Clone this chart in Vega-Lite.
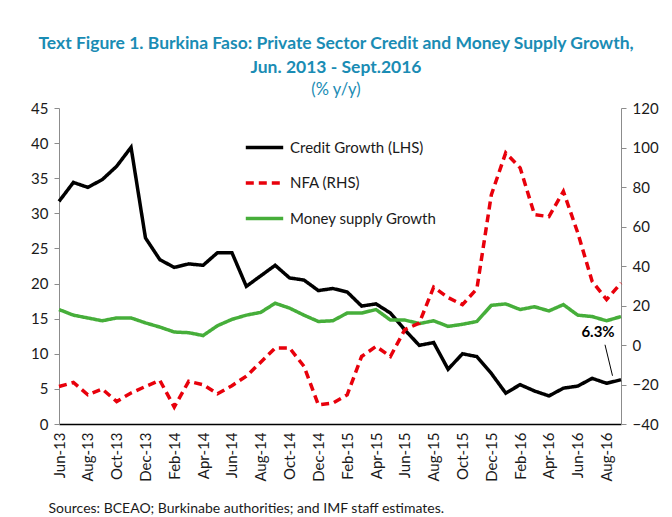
{
  "$schema": "https://vega.github.io/schema/vega-lite/v6.json",
  "width": 562,
  "height": 316,
  "autosize": "none",
  "padding": {"left": 59, "top": 108, "right": 51, "bottom": 93},
  "background": "white",
  "config": {"view": {"stroke": null}, "font": "Lato"},
  "title": {
    "text": ["Text Figure 1. Burkina Faso: Private Sector Credit and Money Supply Growth,", "Jun. 2013 - Sept.2016"],
    "subtitle": "(% y/y)",
    "anchor": "middle",
    "dx": -4,
    "font": "Lato",
    "fontSize": 17.5,
    "fontWeight": "bold",
    "color": "#1A8CB4",
    "lineHeight": 24,
    "subtitleFont": "Lato",
    "subtitleFontSize": 16.5,
    "subtitleColor": "#1A8CB4",
    "subtitlePadding": 5,
    "offset": 3
  },
  "data": {
    "values": [
      {"m": "Jun-13", "credit": 31.7, "nfa": -21.0, "money": 16.3},
      {"m": "Jul-13", "credit": 34.4, "nfa": -19.0, "money": 15.5},
      {"m": "Aug-13", "credit": 33.7, "nfa": -25.2, "money": 15.1},
      {"m": "Sep-13", "credit": 34.8, "nfa": -22.3, "money": 14.7},
      {"m": "Oct-13", "credit": 36.7, "nfa": -28.6, "money": 15.1},
      {"m": "Nov-13", "credit": 39.4, "nfa": -24.3, "money": 15.1},
      {"m": "Dec-13", "credit": 26.5, "nfa": -21.0, "money": 14.4},
      {"m": "Jan-14", "credit": 23.4, "nfa": -17.9, "money": 13.8},
      {"m": "Feb-14", "credit": 22.3, "nfa": -31.4, "money": 13.1},
      {"m": "Mar-14", "credit": 22.8, "nfa": -18.4, "money": 13.0},
      {"m": "Apr-14", "credit": 22.6, "nfa": -20.1, "money": 12.6},
      {"m": "May-14", "credit": 24.4, "nfa": -24.7, "money": 14.0},
      {"m": "Jun-14", "credit": 24.4, "nfa": -20.6, "money": 14.9},
      {"m": "Jul-14", "credit": 19.6, "nfa": -15.8, "money": 15.5},
      {"m": "Aug-14", "credit": 21.1, "nfa": -8.7, "money": 15.9},
      {"m": "Sep-14", "credit": 22.6, "nfa": -1.5, "money": 17.2},
      {"m": "Oct-14", "credit": 20.8, "nfa": -1.5, "money": 16.5},
      {"m": "Nov-14", "credit": 20.5, "nfa": -10.8, "money": 15.5},
      {"m": "Dec-14", "credit": 19.0, "nfa": -30.3, "money": 14.6},
      {"m": "Jan-15", "credit": 19.3, "nfa": -29.4, "money": 14.7},
      {"m": "Feb-15", "credit": 18.8, "nfa": -25.2, "money": 15.8},
      {"m": "Mar-15", "credit": 16.8, "nfa": -5.8, "money": 15.8},
      {"m": "Apr-15", "credit": 17.1, "nfa": -0.7, "money": 16.3},
      {"m": "May-15", "credit": 15.8, "nfa": -5.8, "money": 14.8},
      {"m": "Jun-15", "credit": 13.4, "nfa": 7.8, "money": 14.8},
      {"m": "Jul-15", "credit": 11.2, "nfa": 11.1, "money": 14.3},
      {"m": "Aug-15", "credit": 11.6, "nfa": 29.3, "money": 14.7},
      {"m": "Sep-15", "credit": 7.8, "nfa": 24.0, "money": 13.9},
      {"m": "Oct-15", "credit": 10.0, "nfa": 20.4, "money": 14.2},
      {"m": "Nov-15", "credit": 9.6, "nfa": 28.5, "money": 14.6},
      {"m": "Dec-15", "credit": 7.2, "nfa": 76.0, "money": 16.9},
      {"m": "Jan-16", "credit": 4.4, "nfa": 97.3, "money": 17.1},
      {"m": "Feb-16", "credit": 5.6, "nfa": 89.7, "money": 16.3},
      {"m": "Mar-16", "credit": 4.7, "nfa": 66.0, "money": 16.7},
      {"m": "Apr-16", "credit": 4.0, "nfa": 65.0, "money": 16.1},
      {"m": "May-16", "credit": 5.1, "nfa": 77.8, "money": 17.0},
      {"m": "Jun-16", "credit": 5.4, "nfa": 56.8, "money": 15.5},
      {"m": "Jul-16", "credit": 6.5, "nfa": 32.2, "money": 15.3},
      {"m": "Aug-16", "credit": 5.8, "nfa": 23.0, "money": 14.7},
      {"m": "Sep-16", "credit": 6.3, "nfa": 31.4, "money": 15.3}
    ]
  },
  "encoding": {
    "x": {
      "field": "m",
      "type": "ordinal",
      "sort": null,
      "scale": {"type": "point", "padding": 0},
      "axis": {
        "values": ["Jun-13", "Aug-13", "Oct-13", "Dec-13", "Feb-14", "Apr-14", "Jun-14", "Aug-14", "Oct-14", "Dec-14", "Feb-15", "Apr-15", "Jun-15", "Aug-15", "Oct-15", "Dec-15", "Feb-16", "Apr-16", "Jun-16", "Aug-16"],
        "labelAngle": -90,
        "labelFontSize": 15,
        "labelFont": "Lato",
        "labelColor": "#1a1a1a",
        "labelPadding": 8,
        "ticks": false,
        "domainColor": "#000000",
        "domainWidth": 1.5,
        "grid": false,
        "title": "Sources: BCEAO; Burkinabe authorities; and IMF staff estimates.",
        "titleAnchor": "start",
        "titleAlign": "left",
        "titleBaseline": "alphabetic",
        "titleX": -11,
        "titleY": 88,
        "titleFontWeight": "normal",
        "titleFontSize": 14,
        "titleFont": "Lato",
        "titleColor": "#1a1a1a"
      }
    }
  },
  "layer": [
    {
      "transform": [{"fold": ["credit", "money"], "as": ["series", "value"]}],
      "mark": {"type": "line", "strokeWidth": 3.5, "strokeJoin": "miter"},
      "encoding": {
        "y": {
          "field": "value",
          "type": "quantitative",
          "scale": {"domain": [0, 45], "nice": false, "zero": false},
          "axis": {
            "orient": "left",
            "values": [0, 5, 10, 15, 20, 25, 30, 35, 40, 45],
            "labelFontSize": 15,
            "labelFont": "Lato",
            "labelColor": "#1a1a1a",
            "domainColor": "#8c8c8c",
            "tickColor": "#8c8c8c",
            "tickSize": 5,
            "labelPadding": 6,
            "grid": false,
            "title": null
          }
        },
        "color": {
          "field": "series",
          "type": "nominal",
          "scale": {"domain": ["credit", "nfa", "money"], "range": ["#000000", "#E8000B", "#46AE3A"]},
          "legend": {
            "orient": "none",
            "legendX": 185,
            "legendY": 19,
            "title": null,
            "symbolType": "stroke",
            "symbolSize": 1400,
            "symbolStrokeWidth": 3.5,
            "labelFontSize": 15,
            "labelFont": "Lato",
            "labelColor": "#1a1a1a",
            "labelOffset": 5,
            "rowPadding": 6.5,
            "labelExpr": "datum.value == 'credit' ? 'Credit Growth (LHS)' : datum.value == 'nfa' ? 'NFA (RHS)' : 'Money supply Growth'"
          }
        },
        "strokeDash": {
          "field": "series",
          "type": "nominal",
          "scale": {"domain": ["credit", "nfa", "money"], "range": [[1, 0], [8, 5], [1, 0]]},
          "legend": {
            "orient": "none",
            "legendX": 185,
            "legendY": 19,
            "title": null,
            "symbolType": "stroke",
            "symbolSize": 1400,
            "symbolStrokeWidth": 3.5,
            "labelFontSize": 15,
            "labelFont": "Lato",
            "labelColor": "#1a1a1a",
            "labelOffset": 5,
            "rowPadding": 6.5,
            "labelExpr": "datum.value == 'credit' ? 'Credit Growth (LHS)' : datum.value == 'nfa' ? 'NFA (RHS)' : 'Money supply Growth'"
          }
        }
      }
    },
    {
      "transform": [{"fold": ["nfa"], "as": ["series", "value"]}],
      "mark": {"type": "line", "strokeWidth": 3.5, "strokeJoin": "miter"},
      "encoding": {
        "y": {
          "field": "value",
          "type": "quantitative",
          "scale": {"domain": [-40, 120], "nice": false, "zero": false},
          "axis": {
            "orient": "right",
            "values": [-40, -20, 0, 20, 40, 60, 80, 100, 120],
            "labelFontSize": 15,
            "labelFont": "Lato",
            "labelColor": "#1a1a1a",
            "domainColor": "#8c8c8c",
            "tickColor": "#8c8c8c",
            "tickSize": 5,
            "labelPadding": 6,
            "grid": false,
            "title": null
          }
        },
        "color": {"field": "series", "type": "nominal"},
        "strokeDash": {"field": "series", "type": "nominal"}
      }
    },
    {
      "transform": [{"filter": "datum.m == 'Sep-16'"}],
      "mark": {"type": "rule", "color": "#000000", "strokeWidth": 1, "xOffset": -16, "yOffset": -35, "x2Offset": -8.5, "y2Offset": -4},
      "encoding": {
        "y": {"field": "credit", "type": "quantitative", "scale": {"domain": [0, 45], "nice": false, "zero": false}, "axis": null},
        "x2": {"field": "m"},
        "y2": {"field": "credit"}
      }
    },
    {
      "transform": [{"filter": "datum.m == 'Sep-16'"}, {"calculate": "format(datum.credit, '.1f') + '%'", "as": "label"}],
      "mark": {"type": "text", "fontWeight": "bold", "fontSize": 15, "font": "Lato", "color": "#000000", "dx": -23, "dy": -48},
      "encoding": {
        "y": {"field": "credit", "type": "quantitative", "scale": {"domain": [0, 45], "nice": false, "zero": false}, "axis": null},
        "text": {"field": "label"}
      }
    }
  ],
  "resolve": {"scale": {"y": "independent"}}
}
